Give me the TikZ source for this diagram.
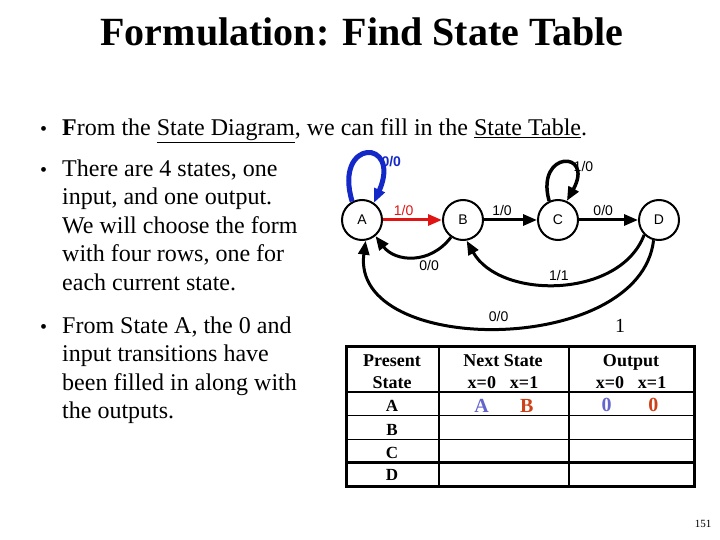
\documentclass[tikz,border=0pt]{standalone}
\usepackage{fontspec}
\setmainfont{Liberation Serif}
\setsansfont{Liberation Sans}
\usepackage{xcolor}
\usetikzlibrary{positioning,arrows.meta}

\definecolor{loopblue}{RGB}{20,40,200}
\definecolor{arcred}{RGB}{225,20,20}
\definecolor{tabblue}{RGB}{100,100,205}
\definecolor{tabred}{RGB}{205,65,25}

\begin{document}
\begin{tikzpicture}[x=1pt, y=-1pt, node distance=59pt,
    state/.style={draw, circle, fill=white, line width=2pt, minimum size=40pt, inner sep=0pt, font=\sffamily\fontsize{14}{14}\selectfont},
    trans/.style={-{Triangle[length=14pt,width=11pt]}, line width=3pt},
    lbl/.style={font=\sffamily\fontsize{14}{14}\selectfont, inner sep=1pt},
    body/.style={anchor=base west, align=left, inner sep=0pt, font=\fontsize{24}{28.5}\selectfont},
    cell/.style={anchor=base, inner sep=0pt, font=\bfseries\fontsize{18}{18}\selectfont}]
    \useasboundingbox (0,0) rectangle (720,540);

    % title and text
    \node[anchor=base, inner sep=0pt, font=\bfseries\fontsize{40}{40}\selectfont] (title) at (362,46) {Formulation: Find State Table};

    \node[body, font=\fontsize{20}{20}\selectfont] (dot1) at (40,135.7) {\textbullet};
    \node[body] (intro) at (62,135.7) {\textbf{F}rom the \underline{State Diagram}, we can fill in the \underline{State Table}.};

    \node[body, font=\fontsize{20}{20}\selectfont] (dot2) at (40,176.7) {\textbullet};
    \node[body] (states) at (62,290) {There are 4 states, one\\input, and one output.\\We will choose the form\\with four rows, one for\\each current state.};

    \node[body, font=\fontsize{20}{20}\selectfont] (dot3) at (40,333) {\textbullet};
    \node[body] (fromA) at (62,418.5) {From State A, the 0 and\\input transitions have\\been filled in along with\\the outputs.};

    % state diagram
    \node[state] (A) at (362,220) {A};
    \node[state, right=of A] (B) {B};
    \node[state, right=53pt of B] (C) {C};
    \node[state, right=of C] (D) {D};

    \draw[trans, loopblue, line width=5pt] (A.118) .. controls (333,138) and (402,138) .. (A.55)
        node[lbl, pos=0.7, right, text=loopblue, font=\sffamily\bfseries\fontsize{14}{14}\selectfont] {0/0};
    \draw[trans, line width=3.5pt] (C.115) .. controls (535,150) and (595,150) .. (C.65)
        node[lbl, pos=0.65, right] {1/0};

    \draw[trans, arcred] (A) -- (B) node[lbl, pos=0.35, above=2pt, text=arcred] {1/0};
    \draw[trans] (B) -- (C) node[lbl, pos=0.34, above=2pt] {1/0};
    \draw[trans] (C) -- (D) node[lbl, pos=0.41, above=2pt] {0/0};

    \draw[trans] (B.235) .. controls (430,265) and (395,262) .. (A.-50)
        node[lbl, pos=0.3, below=4pt] {0/0};
    \draw[trans] (D.225) .. controls (620,299) and (500,300) .. (B.-80)
        node[lbl, pos=0.5, above=1pt] {1/1};
    \draw[trans] (D.-105) .. controls (640,357) and (350,357) .. (A.-80)
        node[lbl, pos=0.5, above=4pt] {0/0};

    \node[inner sep=0pt, font=\fontsize{20}{20}\selectfont] (one) at (620,326) {1};

    % state table
    \draw[line width=1.5pt] (439,346) -- (439,486) (569,346) -- (569,486);
    \draw[line width=2pt] (346,392.3) -- (694,392.3);
    \draw[line width=1.5pt] (346,415.3) -- (694,415.3) (346,439.3) -- (694,439.3);
    \draw[line width=2.5pt] (346,462.7) -- (694,462.7);
    \draw[line width=3pt] (346,346) rectangle (694,486);

    \node[cell] (present) at (392,366) {Present};
    \node[cell] (pstate) at (392,388.3) {State};
    \node[cell] (next) at (503,366) {Next State};
    \node[cell] (nextx) at (503,388.3) {x=0\hspace{14pt}x=1};
    \node[cell] (output) at (631,366) {Output};
    \node[cell] (outx) at (631,388.3) {x=0\hspace{14pt}x=1};

    \node[cell, font=\bfseries\fontsize{17}{17}\selectfont] (rowA) at (392,411.7) {A};
    \node[cell, font=\bfseries\fontsize{17}{17}\selectfont] (rowB) at (392,435) {B};
    \node[cell, font=\bfseries\fontsize{17}{17}\selectfont] (rowC) at (392,458.3) {C};
    \node[cell, font=\bfseries\fontsize{17}{17}\selectfont] (rowD) at (392,480.7) {D};

    \node[cell, font=\bfseries\fontsize{20}{20}\selectfont, text=tabblue] (nsA0) at (481.7,412) {A};
    \node[cell, font=\bfseries\fontsize{20}{20}\selectfont, text=tabred] (nsA1) at (526.7,412) {B};
    \node[cell, font=\bfseries\fontsize{20}{20}\selectfont, text=tabblue] (outA0) at (606.7,411) {0};
    \node[cell, font=\bfseries\fontsize{20}{20}\selectfont, text=tabred] (outA1) at (653.3,411) {0};

    \node[inner sep=0pt, font=\fontsize{11}{11}\selectfont] (page) at (703,524) {151};
\end{tikzpicture}
\end{document}
